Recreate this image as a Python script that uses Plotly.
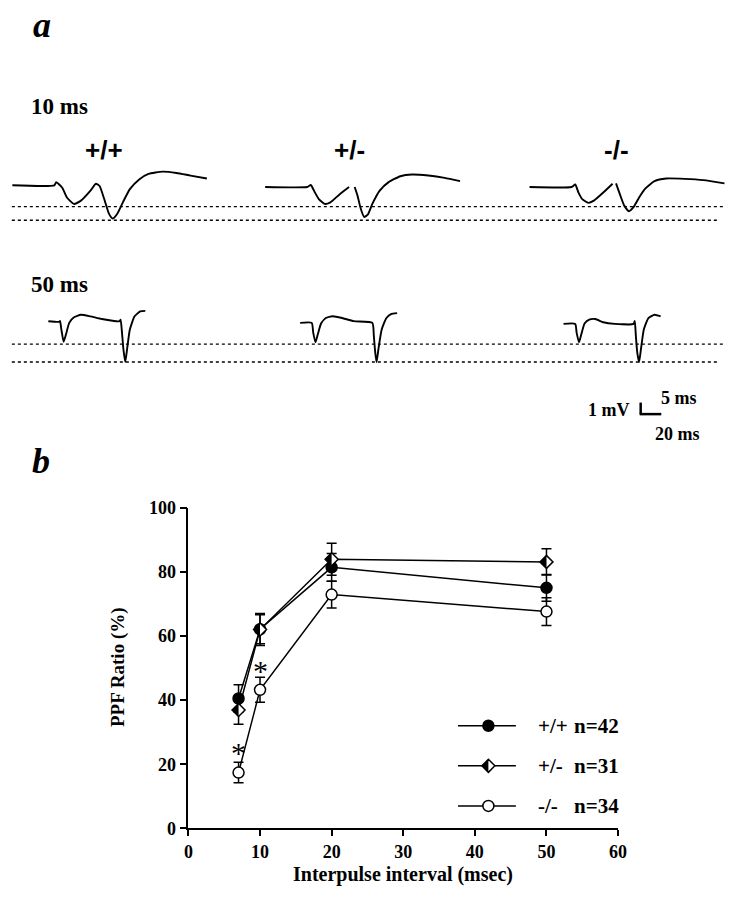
import plotly.graph_objects as go

W, H = 744, 900
SERIF = "Liberation Serif"
SANS = "Liberation Sans"

# ---------------- Panel b data ----------------
interval_ms = [7, 10, 20, 50]
ppf_wt = [40.5, 62.1, 81.4, 75.0]
ppf_wt_err = [4.3, 4.5, 4.3, 4.2]
ppf_het = [36.9, 62.0, 83.9, 83.1]
ppf_het_err = [4.4, 5.0, 5.0, 4.1]
ppf_ko = [17.4, 43.2, 72.9, 67.6]
ppf_ko_err = [3.2, 3.9, 4.2, 4.3]
signif_x = [7, 10]
signif_y = [25.0, 50.4]
genotypes = ["+/+", "+/-", "-/-"]
legend_n = ["n=42", "n=31", "n=34"]
x_ticks = [0, 10, 20, 30, 40, 50, 60]
y_ticks = [0, 20, 40, 60, 80, 100]

# ---------------- Panel a traces ----------------
# time (ms) from first stimulus, amplitude (mV) from baseline
t10_wt = [-11.09, -0.47, 0.0, 1.51, 2.68, 4.47, 6.23, 8.59, 10.0, 10.94, 12.11, 13.30, 14.24, 15.41,
          16.82, 18.59, 20.94, 23.30, 26.85, 30.37, 33.90, 38.04]
v10_wt = [0.06, 0.06, 0.34, -0.15, -1.01, -1.58, -1.29, -0.43, 0.20, 0.0, -1.15, -2.44, -2.87, -2.44,
          -1.44, -0.28, 0.58, 1.06, 1.27, 1.15, 0.92, 0.66]
t10_het = [-11.54, -0.94, 0.0, 0.82, 2.01, 3.52, 4.94, 7.30, 9.65, None, 11.07, 11.79, 12.61, 13.45,
           14.37, 15.53, 17.34, 19.65, 22.61, 25.56, 29.68, 33.80, 37.69]
v10_het = [-0.09, -0.09, 0.09, -0.43, -1.15, -1.58, -1.44, -0.72, -0.09, None, -0.09, -0.86, -2.01, -2.73,
           -2.53, -1.58, -0.43, 0.34, 0.86, 1.01, 0.92, 0.72, 0.43]
t10_ko = [-11.54, -0.94, 0.0, 0.82, 1.76, 3.30, 4.71, 7.07, 9.43, None, 10.30, 11.41, 12.36, 13.55,
          14.71, 16.13, 17.67, 20.02, 22.98, 27.67, 32.38, 37.69]
v10_ko = [-0.09, -0.09, 0.13, -0.58, -1.15, -1.49, -1.29, -0.58, 0.20, None, 0.23, -0.86, -1.72, -2.22,
          -1.87, -1.01, -0.23, 0.43, 0.66, 0.63, 0.52, 0.23]

t50_wt = [-9.64, -0.81, 0.0, 1.13, 3.00, 4.94, 7.62, 11.51, 17.26, 24.96, 34.60, 49.19, 50.0, 51.13,
          52.27, 53.81, 55.35, 57.62, 61.51, 66.13, 70.34]
v50_wt = [0.15, 0.09, 0.17, -0.58, -1.66, -1.01, 0.0, 0.49, 0.72, 0.58, 0.34, 0.15, 0.28, -0.86,
          -2.30, -3.45, -2.30, -0.58, 0.58, 1.01, 1.06]
t50_het = [-9.56, 0.0, 1.22, 3.08, 5.02, 7.70, 11.59, 17.34, 25.04, 34.68, 50.0, 51.22, 52.35, 53.48,
           55.02, 57.70, 61.59, 65.40, 70.42]
v50_het = [0.0, 0.0, -0.86, -1.72, -1.01, -0.06, 0.43, 0.58, 0.43, 0.15, 0.0, -1.15, -2.59, -3.45,
           -2.30, -0.58, 0.43, 0.78, 0.86]
t50_ko = [-9.64, 0.0, 1.13, 3.08, 5.02, 7.70, 11.51, 16.53, 23.10, 32.66, 48.05, 49.10, 50.0, 51.13,
          52.67, 54.21, 56.56, 60.37, 65.40, 70.42]
v50_ko = [-0.09, -0.09, -0.86, -1.72, -1.01, -0.06, 0.28, 0.34, 0.06, -0.09, -0.09, 0.17, -1.15, -2.59,
          -3.45, -2.30, -0.58, 0.43, 0.72, 0.58]

ref_levels_10 = [-1.81, -3.02]   # dotted reference lines (mV)
ref_levels_50 = [-1.87, -3.45]

# ---------------- layout geometry (pixels) ----------------
def PX(x):
    return x / W

def PY(y):
    return 1 - y / H

PX_PER_MV = 11.6
ROW_SCALE = [4.03, 1.234]             # px per ms for 10 ms and 50 ms rows
ROW_BASE_Y = [180.0, 320.0]           # baseline pixel rows
COL_X = [[53.2, 312.3, 581.4], [57.0, 313.2, 581.4]]

fig = go.Figure()
layout = dict(
    width=W, height=H, margin=dict(l=0, r=0, t=0, b=0),
    paper_bgcolor="white", plot_bgcolor="rgba(0,0,0,0)", showlegend=False,
    font=dict(family=SERIF, color="black"),
)

def hidden(**kw):
    d = dict(visible=False, showgrid=False, zeroline=False, fixedrange=True)
    d.update(kw)
    return d

rows = [
    [(t10_wt, v10_wt), (t10_het, v10_het), (t10_ko, v10_ko)],
    [(t50_wt, v50_wt), (t50_het, v50_het), (t50_ko, v50_ko)],
]
yax_names = ["y2", "y3"]
xi = 2
for r, row in enumerate(rows):
    y0 = ROW_BASE_Y[r]
    yname = yax_names[r]
    layout["yaxis" + yname[1:]] = hidden(domain=[0, 1], anchor="x%d" % xi,
                                         range=[-(H - y0) / PX_PER_MV, y0 / PX_PER_MV])
    for c, (t, v) in enumerate(row):
        a = COL_X[r][c]
        s = ROW_SCALE[r]
        layout["xaxis%d" % xi] = hidden(domain=[0, 1], anchor=yname, range=[-a / s, (W - a) / s])
        fig.add_trace(go.Scatter(x=t, y=v, mode="lines", xaxis="x%d" % xi, yaxis=yname,
                                 line=dict(color="black", width=1.9, shape="spline", smoothing=0.5),
                                 connectgaps=False, hoverinfo="skip"))
        xi += 1

shapes = []
# dotted reference lines
for levels, yname in [(ref_levels_10, "y2"), (ref_levels_50, "y3")]:
    ends = [733, 726]
    for lev, xe in zip(levels, ends):
        shapes.append(dict(type="line", xref="paper", yref=yname, x0=PX(8), x1=PX(xe), y0=lev, y1=lev,
                           line=dict(color="black", width=1.3, dash="dot")))
# scale bar
shapes.append(dict(type="line", xref="paper", yref="paper", x0=PX(648), x1=PX(648), y0=PY(401.5), y1=PY(413.5),
                   line=dict(color="black", width=2.5)))
shapes.append(dict(type="line", xref="paper", yref="paper", x0=PX(647), x1=PX(669), y0=PY(413.3), y1=PY(413.3),
                   line=dict(color="black", width=2.5)))

# ---------------- Panel b ----------------
layout["xaxis"] = dict(domain=[PX(187.7), PX(625)], anchor="y", range=[0, 60], tickvals=x_ticks,
                       ticks="outside", ticklen=6, tickwidth=1.5, tickcolor="black",
                       showline=True, linecolor="black", linewidth=1.5, showgrid=False, zeroline=False,
                       tickfont=dict(family=SERIF, size=18, weight="bold", color="black"), fixedrange=True)
layout["yaxis"] = dict(domain=[PY(837), PY(509)], anchor="x", range=[0, 100], tickvals=y_ticks,
                       ticks="outside", ticklen=7, tickwidth=1.5, tickcolor="black",
                       showline=True, linecolor="black", linewidth=1.5, showgrid=False, zeroline=False,
                       tickfont=dict(family=SERIF, size=18, weight="bold", color="black"), fixedrange=True)

def err(a):
    return dict(type="data", array=a, visible=True, thickness=1.5, width=5, color="black")

fig.add_trace(go.Scatter(x=interval_ms, y=ppf_wt, error_y=err(ppf_wt_err), mode="lines+markers",
                         line=dict(color="black", width=1.5),
                         marker=dict(symbol="circle", size=11, color="black", line=dict(color="black", width=1.5)),
                         hoverinfo="skip"))
fig.add_trace(go.Scatter(x=interval_ms, y=ppf_ko, error_y=err(ppf_ko_err), mode="lines+markers",
                         line=dict(color="black", width=1.5),
                         marker=dict(symbol="circle", size=11, color="white", line=dict(color="black", width=1.5)),
                         hoverinfo="skip"))
fig.add_trace(go.Scatter(x=interval_ms, y=ppf_het, error_y=err(ppf_het_err), mode="lines+markers",
                         line=dict(color="black", width=1.5),
                         marker=dict(symbol="diamond", size=10, color="white", line=dict(color="black", width=1.5)),
                         hoverinfo="skip"))

HALF_DIAMOND = "M -6.5 0 L 0 -6.5 L 0 6.5 Z"
for xv, yv in zip(interval_ms, ppf_het):
    shapes.append(dict(type="path", xref="x", yref="y", xsizemode="pixel", ysizemode="pixel",
                       xanchor=xv, yanchor=yv, path=HALF_DIAMOND, fillcolor="black",
                       line=dict(width=0), layer="above"))

annotations = []
for sx, sy in zip(signif_x, signif_y):
    annotations.append(dict(x=sx, y=sy, xref="x", yref="y", text="*", showarrow=False, yshift=-4,
                            font=dict(family=SERIF, size=30, color="black")))

# legend
LEG_X0, LEG_X1, LEG_MARK = 462, 521, 493
LEG_ROWS = [732, 773, 814]
layout["xaxis8"] = hidden(domain=[PX(LEG_X0), PX(LEG_X1)], anchor="y4", range=[LEG_X0, LEG_X1])
layout["yaxis4"] = hidden(domain=[0, 1], anchor="x8", range=[H, 0])
symbols = [("circle", 11, "black"), ("diamond", 10, "white"), ("circle", 11, "white")]
for i, (sym, sz, fc) in enumerate(symbols):
    yr = LEG_ROWS[i]
    fig.add_trace(go.Scatter(x=[LEG_X0, LEG_X1], y=[yr, yr], mode="lines", xaxis="x8", yaxis="y4",
                             line=dict(color="black", width=1.5), hoverinfo="skip"))
    fig.add_trace(go.Scatter(x=[LEG_MARK], y=[yr], mode="markers", xaxis="x8", yaxis="y4",
                             marker=dict(symbol=sym, size=sz, color=fc, line=dict(color="black", width=1.5)),
                             hoverinfo="skip"))
    if sym == "diamond":
        shapes.append(dict(type="path", xref="x8", yref="y4", xsizemode="pixel", ysizemode="pixel",
                           xanchor=LEG_MARK, yanchor=yr, path=HALF_DIAMOND, fillcolor="black",
                           line=dict(width=0), layer="above"))
    annotations.append(dict(x=PX(541), y=PY(yr), xref="paper", yref="paper", xanchor="left", yanchor="middle",
                            text=genotypes[i], showarrow=False,
                            font=dict(family=SERIF, size=21, weight="bold", color="black")))
    annotations.append(dict(x=PX(578), y=PY(yr), xref="paper", yref="paper", xanchor="left", yanchor="middle",
                            text=legend_n[i], showarrow=False,
                            font=dict(family=SERIF, size=21, weight="bold", color="black")))

# axis titles
annotations.append(dict(x=PX(406), y=PY(884), xref="paper", yref="paper", text="Interpulse interval (msec)",
                        showarrow=False, xanchor="center", yanchor="middle",
                        font=dict(family=SERIF, size=20, weight="bold", color="black")))
annotations.append(dict(x=PX(116), y=PY(672), xref="paper", yref="paper", text="PPF Ratio (%)",
                        showarrow=False, textangle=-90, xanchor="center", yanchor="middle",
                        font=dict(family=SERIF, size=19, weight="bold", color="black")))

# panel a texts
def txt(x, y, s, size, family=SERIF, xanchor="left", italic=False):
    annotations.append(dict(x=PX(x), y=PY(y), xref="paper", yref="paper", text=s, showarrow=False,
                            xanchor=xanchor, yanchor="middle",
                            font=dict(family=family, size=size, weight="bold",
                                      style="italic" if italic else "normal", color="black")))

txt(39, 15, "a", 36, xanchor="center", italic=True)
txt(38, 461, "b", 36, xanchor="center", italic=True)
txt(25, 99, "10 ms", 23)
txt(25, 281, "50 ms", 23)
for lab, cx in zip(genotypes, [102, 352, 623]):
    txt(cx, 143, lab, 26, family=SANS, xanchor="center")
txt(592, 409, "1 mV", 18)
txt(667, 397, "5 ms", 18)
txt(661, 434, "20 ms", 18)

layout["shapes"] = shapes
layout["annotations"] = annotations
fig.update_layout(**layout)
fig.write_html("out.html", config={"displayModeBar": False},
               post_script="document.body.style.margin='0';document.body.style.padding='0';")
